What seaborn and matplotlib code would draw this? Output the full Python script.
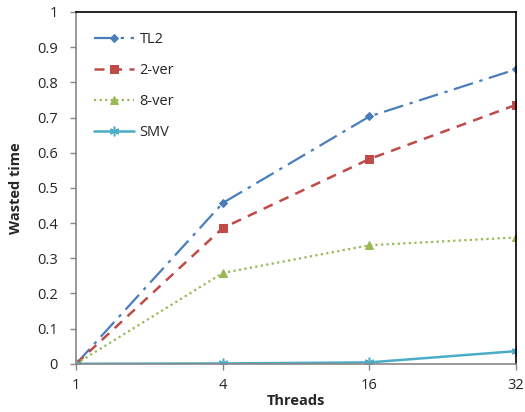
import numpy as np
import pandas as pd
import matplotlib
matplotlib.use("Agg")
import matplotlib.pyplot as plt
import seaborn as sns

threads = ["1", "4", "16", "32"]
tl2 = [0.0, 0.457, 0.703, 0.837]
ver2 = [0.0, 0.386, 0.582, 0.736]
ver8 = [0.0, 0.258, 0.337, 0.359]
smv = [0.0, 0.001, 0.004, 0.036]
y_ticks = [0, 0.1, 0.2, 0.3, 0.4, 0.5, 0.6, 0.7, 0.8, 0.9, 1]

series = {"TL2": tl2, "2-ver": ver2, "8-ver": ver8, "SMV": smv}
rows = []
for name, vals in series.items():
    for i, v in enumerate(vals):
        rows.append({"pos": i, "value": v, "series": name})
df = pd.DataFrame(rows)

sns.set_theme(style="white")
plt.rcParams["font.family"] = ["Open Sans", "DejaVu Sans"]

styles = {
    "TL2": dict(color="#4a7ebb", marker="D", ms=4.5, dashes=(9, 3, 1.5, 3), lw=1.6),
    "2-ver": dict(color="#be4b48", marker="s", ms=6, dashes=(4, 3), lw=1.8),
    "8-ver": dict(color="#98b954", marker="^", ms=6, dashes=(1, 1.5), lw=1.6),
    "SMV": dict(color="#4bacc6", marker=(6, 2, 0), ms=7, dashes=None, lw=1.8),
}

fig, ax = plt.subplots(figsize=(5.25, 4.12), dpi=100)
fig.subplots_adjust(left=0.145, right=0.983, top=0.971, bottom=0.117)

for name in series:
    st = styles[name]
    sub = df[df["series"] == name]
    sns.lineplot(data=sub, x="pos", y="value", ax=ax, color=st["color"],
                 marker=st["marker"], markersize=st["ms"], lw=st["lw"],
                 markeredgecolor=st["color"], label=name)
    ln = ax.get_lines()[-1]
    if st["dashes"] is not None:
        ln.set_dashes(st["dashes"])
    if name == "SMV":
        ln.set_markeredgewidth(1.1)

ax.set_xlim(0, 3)
ax.set_ylim(0, 1)
ax.set_xticks(range(len(threads)))
ax.set_xticklabels(threads)
ax.set_yticks(y_ticks)
ax.set_yticklabels([f"{t:g}" for t in y_ticks])
ax.tick_params(axis="both", labelsize=10.5, length=4, width=1, color="#888888",
               direction="out", bottom=True, left=True)
ax.tick_params(axis="y", pad=9)
ax.tick_params(axis="x", pad=6)
ax.set_xlabel("Threads", fontsize=10.5, fontweight="bold", labelpad=1)
ax.set_ylabel("Wasted time", fontsize=10.5, fontweight="bold", labelpad=10)

for side in ["left", "bottom"]:
    ax.spines[side].set_color("#888888")
    ax.spines[side].set_linewidth(1.2)
for side in ["top", "right"]:
    ax.spines[side].set_color("black")
    ax.spines[side].set_linewidth(1.2)

handles, labels = ax.get_legend_handles_labels()
for h, name in zip(handles, labels):
    st = styles[name]
    if st["dashes"] is not None:
        h.set_dashes(st["dashes"])
ax.legend(handles, labels, loc="upper left", bbox_to_anchor=(0.01, 0.98),
          frameon=False, fontsize=10.5, handlelength=2.8, labelspacing=1.1,
          handletextpad=0.35)

fig.savefig("out.png", dpi=100)
